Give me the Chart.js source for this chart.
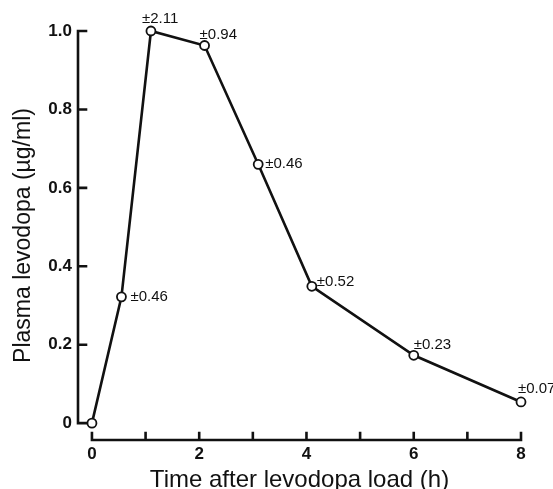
<!DOCTYPE html>
<html>
<head>
<meta charset="utf-8">
<script src="https://cdn.jsdelivr.net/npm/chart.js@4.4.1/dist/chart.umd.min.js"></script>
<style>
  body { margin: 0; background: #fff; }
  canvas { display: block; }
</style>
</head>
<body>
<canvas id="Grafica" width="553" height="489"></canvas>
<script>
// hours after the load
const hours = [0, 0.55, 1.1, 2.1, 3.1, 4.1, 6, 8];
// plasma levodopa, ug/ml
const levodopa = [0, 0.322, 1.0, 0.963, 0.66, 0.349, 0.173, 0.054];
// SD written next to each point
const sdLabels = ['', '\u00b10.46', '\u00b12.11', '\u00b10.94', '\u00b10.46', '\u00b10.52', '\u00b10.23', '\u00b10.07'];
// where each SD label sits relative to its point (px)
const sdOffsets = [[0, 0], [9, 0], [-9, -12.5], [-5, -11], [7, 0], [5, -4], [0, -10], [-3, -13]];

const xTicks = [0, 2, 4, 6, 8];
const xMinorTicks = [1, 3, 5, 7];
const yTicks = [0, 0.2, 0.4, 0.6, 0.8, 1.0];

const INK = '#111';
const FONT = "'Liberation Sans', Arial, sans-serif";

// axes are drawn by hand: detached, ticks pointing inward
const axesPlugin = {
    id: 'handAxes',
    beforeDatasetsDraw(chart) {
        const ctx = chart.ctx;
        const xs = chart.scales.x;
        const ys = chart.scales.y;
        const area = chart.chartArea;
        ctx.save();
        ctx.strokeStyle = INK;
        ctx.lineWidth = 2.6;
        ctx.lineCap = 'square';

        // y axis
        const yx = area.left;
        ctx.beginPath();
        ctx.moveTo(yx, ys.getPixelForValue(1.0));
        ctx.lineTo(yx, ys.getPixelForValue(0));
        yTicks.forEach(v => {
            const py = ys.getPixelForValue(v);
            ctx.moveTo(yx, py);
            ctx.lineTo(yx + 8, py);
        });
        ctx.stroke();

        // x axis
        const xy = area.bottom;
        ctx.beginPath();
        ctx.moveTo(xs.getPixelForValue(0), xy);
        ctx.lineTo(xs.getPixelForValue(8), xy);
        xTicks.concat(xMinorTicks).forEach(v => {
            const px = xs.getPixelForValue(v);
            ctx.moveTo(px, xy);
            ctx.lineTo(px, xy - 7);
        });
        ctx.stroke();
        ctx.restore();
    },
    afterDatasetsDraw(chart) {
        const ctx = chart.ctx;
        const meta = chart.getDatasetMeta(0);
        ctx.save();
        ctx.fillStyle = INK;
        ctx.font = '15px ' + FONT;
        ctx.textAlign = 'left';
        ctx.textBaseline = 'middle';
        meta.data.forEach((pt, i) => {
            if (!sdLabels[i]) return;
            ctx.fillText(sdLabels[i], pt.x + sdOffsets[i][0], pt.y + sdOffsets[i][1]);
        });
        ctx.restore();
    }
};

function getConfig() {
    return {
        type: 'line',
        data: {
            datasets: [{
                data: hours.map((h, i) => ({x: h, y: levodopa[i]})),
                borderColor: INK,
                borderWidth: 2.6,
                pointRadius: 4.5,
                pointBorderWidth: 1.8,
                pointBackgroundColor: '#fff',
                pointBorderColor: INK,
                tension: 0,
                clip: false
            }]
        },
        options: {
            responsive: false,
            animation: false,
            devicePixelRatio: 1,
            layout: { padding: { top: 31, right: 32, left: 0, bottom: 0 } },
            plugins: { legend: { display: false }, tooltip: { enabled: false } },
            scales: {
                x: {
                    type: 'linear',
                    min: -0.26,
                    max: 8,
                    border: { display: false },
                    grid: { display: false, drawTicks: false },
                    afterBuildTicks: s => { s.ticks = xTicks.map(v => ({value: v})); },
                    afterFit: s => { s.height = 49; },
                    ticks: {
                        color: INK,
                        padding: 4,
                        font: { family: FONT, size: 17, weight: 'bold' },
                        callback: v => String(v)
                    },
                    title: {
                        display: true,
                        text: 'Time after levodopa load (h)',
                        color: INK,
                        font: { family: FONT, size: 24 },
                        padding: { top: 0, bottom: -6 }
                    }
                },
                y: {
                    type: 'linear',
                    min: -0.043,
                    max: 1.0,
                    border: { display: false },
                    grid: { display: false, drawTicks: false },
                    afterBuildTicks: s => { s.ticks = yTicks.map(v => ({value: v})); },
                    afterFit: s => { s.width = 78; },
                    ticks: {
                        color: INK,
                        padding: 6,
                        font: { family: FONT, size: 17, weight: 'bold' },
                        callback: v => (v === 0 ? '0' : v.toFixed(1))
                    },
                    title: {
                        display: true,
                        text: 'Plasma levodopa (\u00b5g/ml)',
                        color: INK,
                        font: { family: FONT, size: 23 },
                        padding: { top: 10, bottom: 0 }
                    }
                }
            }
        },
        plugins: [axesPlugin]
    };
}

new Chart(document.getElementById('Grafica').getContext('2d'), getConfig());
</script>
</body>
</html>
